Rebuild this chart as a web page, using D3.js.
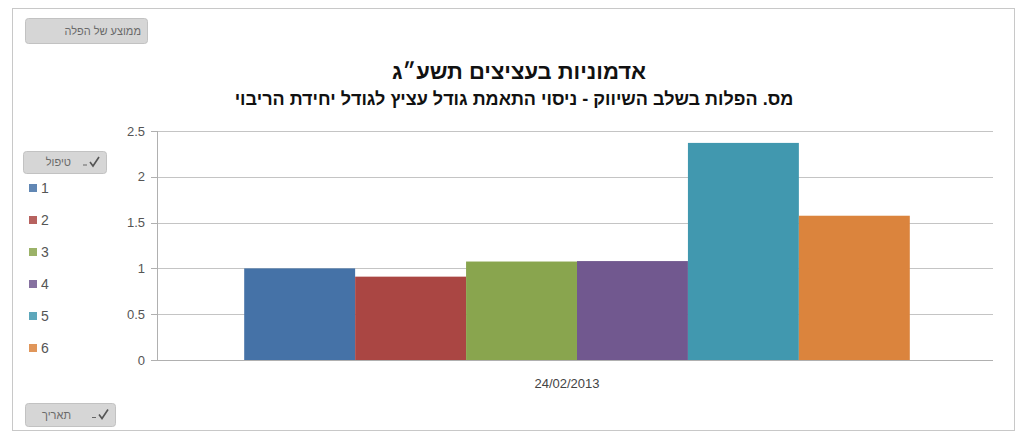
<!DOCTYPE html>
<meta charset="utf-8">
<style>
body { margin: 0; background: #fff; }
svg text { font-family: "Liberation Sans", Arial, sans-serif; }
.grid line { stroke: #c4c4c4; shape-rendering: crispEdges; }
.grid path { display: none; }
.yaxis path, .yaxis line { stroke: #b0b0b0; shape-rendering: crispEdges; }
.yaxis text { fill: #555; font-size: 13px; }
.btn rect { fill: #d6d6d6; stroke: #c2c2c2; }
.btn text { fill: #6a6a6a; font-size: 11px; }
</style>
<body>
<div id="chart"></div>
<script src="https://cdnjs.cloudflare.com/ajax/libs/d3/7.8.5/d3.min.js"></script>
<script>

// treatments (series) and their values for the single date
var treatments = ["1", "2", "3", "4", "5", "6"];
var values     = [1.0, 0.91, 1.075, 1.08, 2.37, 1.575];
var colors     = ["#4572a7", "#aa4643", "#89a54e", "#71588f", "#4198af", "#db843d"];
var dates      = ["24/02/2013"];
var yTicks     = [0, 0.5, 1, 1.5, 2, 2.5];

var title    = "אדמוניות בעציצים תשע״ג";
var subtitle = "מס. הפלות  בשלב השיווק - ניסוי התאמת גודל עציץ לגודל יחידת הריבוי";

var W = 1021, H = 435;
var margin = {top: 131, right: 28, bottom: 75, left: 157};

var svg = d3.select("#chart").append("svg")
    .attr("width", W)
    .attr("height", H);

// outer frame
svg.append("rect")
    .attr("x", 12.5).attr("y", 8.5)
    .attr("width", 1002).attr("height", 422)
    .attr("fill", "none")
    .attr("stroke", "#c8c8c8");

var plotW = 993 - margin.left,
    plotH = 360 - margin.top;

var g = svg.append("g")
    .attr("transform", "translate(" + margin.left + "," + margin.top + ")");

var x0 = d3.scaleBand().domain(dates).range([4, plotW]).paddingInner(0).paddingOuter(0.125);
var x1 = d3.scaleBand().domain(treatments).range([0, x0.bandwidth()]);
var y  = d3.scaleLinear().domain([0, 2.5]).range([plotH, 0]);

// gridlines
g.append("g")
    .attr("class", "grid")
    .call(d3.axisLeft(y).tickValues(yTicks).tickSize(-plotW).tickFormat(""));

// y axis
g.append("g")
    .attr("class", "yaxis")
    .call(d3.axisLeft(y).tickValues(yTicks).tickSize(6).tickPadding(6).tickFormat(d3.format("")));

// bars
var groups = g.selectAll(".date")
    .data(dates)
    .enter().append("g")
    .attr("transform", function(d) { return "translate(" + x0(d) + ",0)"; });

groups.selectAll("rect")
    .data(treatments.map(function(t, i) { return {t: t, v: values[i], c: colors[i]}; }))
    .enter().append("rect")
    .attr("x", function(d) { return x1(d.t); })
    .attr("width", x1.bandwidth())
    .attr("y", function(d) { return y(d.v); })
    .attr("height", function(d) { return plotH - y(d.v); })
    .attr("fill", function(d) { return d.c; });

// baseline
g.append("line")
    .attr("x1", 0).attr("x2", plotW)
    .attr("y1", y(0) + 0.5).attr("y2", y(0) + 0.5)
    .attr("stroke", "#b0b0b0");

// category label
g.selectAll(".xlab")
    .data(dates)
    .enter().append("text")
    .attr("x", function(d) { return x0(d) + x0.bandwidth() / 2 - 10; })
    .attr("y", plotH + 28)
    .attr("text-anchor", "middle")
    .attr("fill", "#444")
    .style("font-size", "13px")
    .text(function(d) { return d; });

// titles
svg.append("text")
    .attr("x", 519).attr("y", 79)
    .attr("text-anchor", "middle")
    .attr("direction", "rtl")
    .style("font-size", "22px").style("font-weight", "bold")
    .attr("fill", "#111")
    .text(title);

svg.append("text")
    .attr("x", 514).attr("y", 105)
    .attr("text-anchor", "middle")
    .attr("direction", "rtl")
    .style("font-size", "18px").style("font-weight", "bold")
    .attr("fill", "#111")
    .text(subtitle);

// field buttons
function button(x, y, w, h, label, textRight, icon) {
    var b = svg.append("g").attr("class", "btn").attr("transform", "translate(" + x + "," + y + ")");
    b.append("rect").attr("x", 0.5).attr("y", 0.5).attr("width", w).attr("height", h).attr("rx", 3);
    b.append("text")
        .attr("x", textRight).attr("y", h / 2 + 4)
        .attr("text-anchor", "start")
        .attr("direction", "rtl")
        .text(label);
    if (icon) {
        b.append("path")
            .attr("d", "M" + (w - 16) + "," + (h / 2) + " l3,4 l6,-9")
            .attr("fill", "none").attr("stroke", "#555").attr("stroke-width", 1.6);
        b.append("line")
            .attr("x1", w - 23).attr("x2", w - 19)
            .attr("y1", h / 2 + 3).attr("y2", h / 2 + 3)
            .attr("stroke", "#666");
    }
}
button(25, 18, 122, 25, "ממוצע של הפלה", 116, false);
button(23, 151, 83, 22, "טיפול", 48, true);
button(25, 403, 90, 23, "תאריך", 46, true);

// legend
var legend = svg.selectAll(".legend")
    .data(treatments)
    .enter().append("g")
    .attr("transform", function(d, i) { return "translate(29," + (188 + i * 32) + ")"; });

legend.append("rect")
    .attr("x", 0).attr("y", -4)
    .attr("width", 8).attr("height", 8)
    .attr("fill", function(d, i) { return colors[i]; })
    .attr("opacity", 0.85);

legend.append("text")
    .attr("x", 12).attr("y", 5)
    .attr("fill", "#555")
    .style("font-size", "14px")
    .text(function(d) { return d; });

</script>
